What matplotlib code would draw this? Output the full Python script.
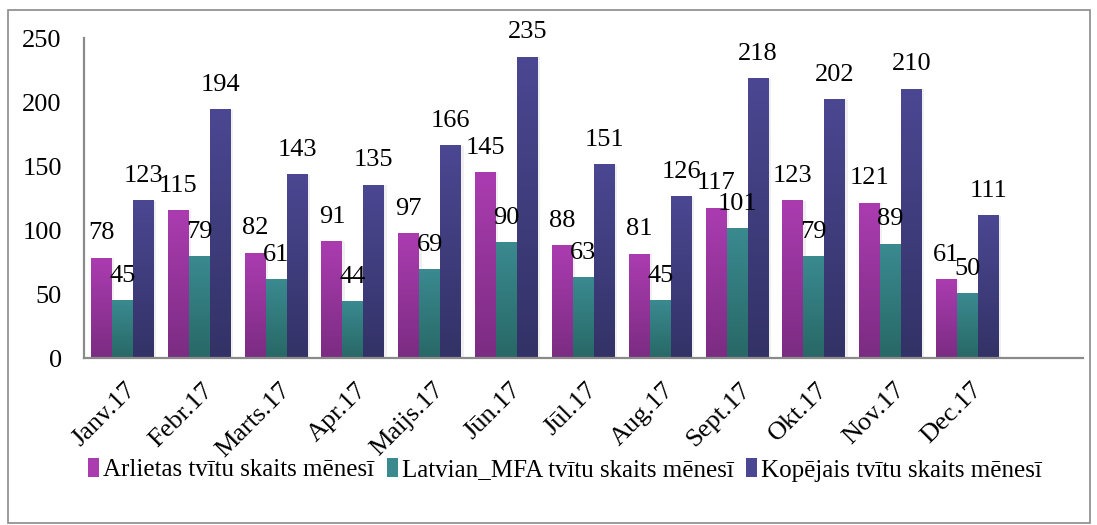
import numpy as np
import matplotlib
matplotlib.use("Agg")
import matplotlib.pyplot as plt
import matplotlib.transforms as mtransforms
from matplotlib.colors import LinearSegmentedColormap
from matplotlib.patches import Rectangle

months = ["Janv.17", "Febr.17", "Marts.17", "Apr.17", "Maijs.17", "Jūn.17",
          "Jūl.17", "Aug.17", "Sept.17", "Okt.17", "Nov.17", "Dec.17"]
arlietas = [78, 115, 82, 91, 97, 145, 88, 81, 117, 123, 121, 61]
latvian_mfa = [45, 79, 61, 44, 69, 90, 63, 45, 101, 79, 89, 50]
kopejais = [123, 194, 143, 135, 166, 235, 151, 126, 218, 202, 210, 111]

series = [
    ("Arlietas tvītu skaits mēnesī", arlietas, "#AB3CB0", "#7B2C82"),
    ("Latvian_MFA tvītu skaits mēnesī", latvian_mfa, "#3A8A90", "#286866"),
    ("Kopējais tvītu skaits mēnesī", kopejais, "#4B4792", "#333266"),
]

serif = ["Liberation Serif", "DejaVu Serif"]
plt.rcParams["font.family"] = serif

fig = plt.figure(figsize=(10.97, 5.25), dpi=100)
ax = fig.add_axes([0.0766, 0.318, 0.9104, 0.6096])

# outer chart border
fig.patches.append(Rectangle((0.0073, 0.004), 0.9863, 0.977, transform=fig.transFigure,
                             fill=False, edgecolor="#8a8a8a", linewidth=1.2))

width = 0.273
x = np.arange(len(months))
grad = np.linspace(1, 0, 256).reshape(-1, 1)
handles = []
for i, (name, vals, top, bottom) in enumerate(series):
    cmap = LinearSegmentedColormap.from_list(name, [bottom, top])
    offs = (i - 1) * width
    for xi, v in zip(x, vals):
        x0 = xi + offs - width / 2
        # soft shadow
        ax.add_patch(Rectangle((x0 + 0.03, 0), width, v, facecolor="#000000",
                               alpha=0.06, edgecolor="none", zorder=1))
        ax.imshow(grad, extent=[x0, x0 + width, 0, v], aspect="auto",
                  cmap=cmap, vmin=0, vmax=1, zorder=2)
        ax.annotate(str(v), (xi + offs, v), xytext=(0, 10), textcoords="offset points",
                    ha="center", va="bottom", fontsize=19, zorder=4)
    handles.append(Rectangle((0, 0), 1, 1, facecolor=top, edgecolor="none"))

ax.set_xlim(-0.5, 12.5)
ax.set_ylim(0, 250)
ax.set_yticks([0, 50, 100, 150, 200, 250])
ax.set_xticks(x)
ax.set_xticklabels(months, rotation=45, ha="right", rotation_mode="anchor")
ax.tick_params(axis="both", length=0, labelsize=19)
ax.tick_params(axis="y", pad=16)
ax.tick_params(axis="x", pad=15)
shift = mtransforms.ScaledTranslation(2 / 72, 0, fig.dpi_scale_trans)
for lbl in ax.get_xticklabels():
    lbl.set_transform(lbl.get_transform() + shift)
for s in ("top", "right"):
    ax.spines[s].set_visible(False)
for s in ("left", "bottom"):
    ax.spines[s].set_color("#8a8a8a")
    ax.spines[s].set_linewidth(1.6)

fig.legend(handles, [s[0] for s in series], loc="center", bbox_to_anchor=(0.515, 0.105),
           ncol=3, frameon=False, prop={"family": serif, "size": 18},
           handlelength=0.45, handleheight=0.8, handletextpad=0.15, columnspacing=0.5)

fig.savefig("out.png", dpi=100)
